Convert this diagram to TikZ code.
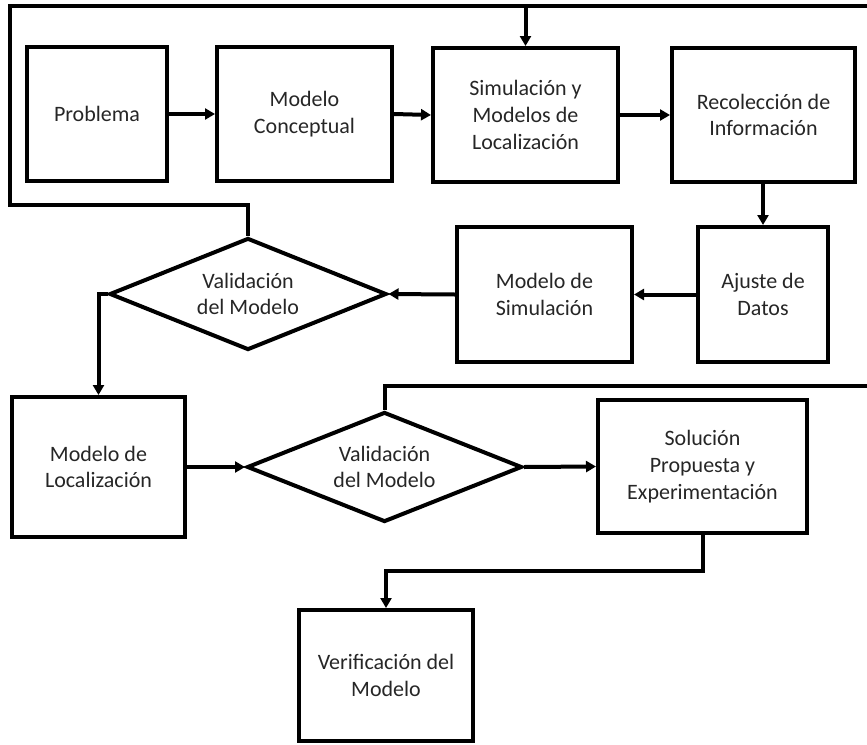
\documentclass[tikz,border=0pt]{standalone}
\usepackage{fontspec}
\setmainfont{Carlito}
\usetikzlibrary{arrows.meta,shapes.geometric}
\begin{document}
\begin{tikzpicture}[x=1pt,y=-1pt,
  every node/.style={font=\fontsize{22}{26.7}\selectfont, text=black!85, align=center, inner sep=0pt},
  box/.style={draw=black, line width=4pt, rectangle},
  dec/.style={draw=black, line width=4pt, diamond, aspect=2.47},
  conn/.style={draw=black, line width=4pt},
  arr/.style={conn, -{Triangle[length=10pt,width=11pt]}}]
\useasboundingbox (0,0) rectangle (867,744);
% boxes
\node[box, minimum width=140pt, minimum height=134pt] (prob) at (97,114) {Problema};
\node[box, minimum width=175pt, minimum height=134pt] (conc) at (304.5,114) {Modelo\\Conceptual};
\node[box, minimum width=185pt, minimum height=134pt] (sim) at (525.5,115) {Simulación y\\Modelos de\\Localización};
\node[box, minimum width=183pt, minimum height=134pt] (rec) at (763.5,115) {Recolección de\\Información};
\node[box, minimum width=175pt, minimum height=135pt] (msim) at (544.5,294.5) {Modelo de\\Simulación};
\node[box, minimum width=130pt, minimum height=135pt] (ajus) at (763,294.5) {Ajuste de\\Datos};
\node[dec, minimum width=277pt, minimum height=112pt] (dia1) at (248,294) {Validación\\del Modelo};
\node[box, minimum width=173pt, minimum height=140pt] (loc) at (98.5,467) {Modelo de\\Localización};
\node[dec, minimum width=275pt, minimum height=110pt] (dia2) at (384.5,467) {Validación\\del Modelo};
\node[box, minimum width=209pt, minimum height=133pt] (sol) at (702.5,466.5) {Solución\\Propuesta y\\Experimentación};
\node[box, minimum width=174pt, minimum height=131pt] (ver) at (386,675.5) {Verificación del\\Modelo};
% coordinates
\coordinate (tl) at (10,6);
\coordinate (tr) at (867,6);
\coordinate (lb) at (10,205);
\coordinate (simtop) at (525.5,6);
\coordinate (fb2r) at (867,386);
\coordinate (solbend) at (702.5,571);
% connectors
\draw[arr] (prob.east) -- (conc.west);
\draw[arr] (conc.east) -- (sim.west);
\draw[arr] (sim.east) -- (rec.west);
\draw[arr] (rec.south -| ajus.north) -- (ajus.north);
\draw[arr] (ajus.west) -- (msim.east);
\draw[arr] (msim.west) -- (dia1.east);
\draw[arr] (dia1.west) -| (loc.north);
\draw[arr] (loc.east) -- (dia2.west);
\draw[arr] (dia2.east) -- (sol.west);
\draw[arr] (sol.south) -- (solbend) -| (ver.north);
\draw[conn, line join=miter] (dia1.north) |- (lb) -- (tl) -- (tr);
\draw[arr] (simtop) -- (sim.north);
\draw[conn, line join=miter] (dia2.north) |- (fb2r);
\end{tikzpicture}
\end{document}
